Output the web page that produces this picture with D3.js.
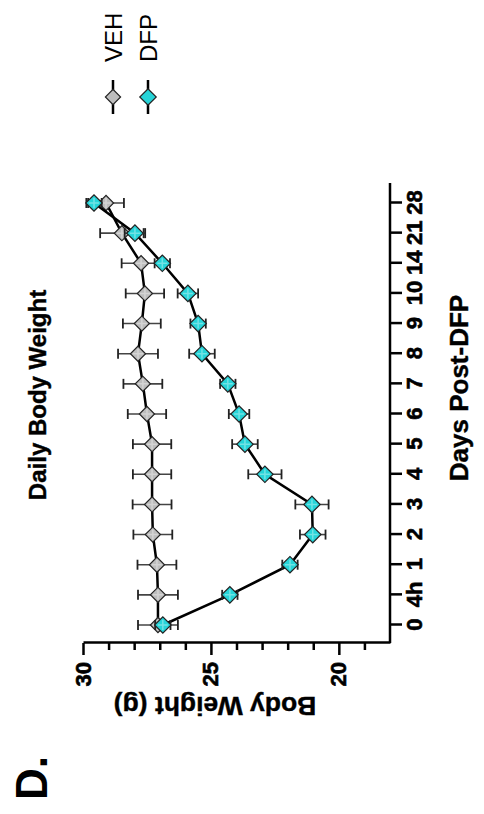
<!DOCTYPE html>
<html>
<head>
<meta charset="utf-8">
<script src="https://cdn.jsdelivr.net/npm/d3@7"></script>
<style>
  body { margin: 0; background: #fff; }
  svg { display: block; }
  text { font-family: Arial, "Liberation Sans", sans-serif; }
</style>
</head>
<body>
<div id="chart"></div>
<script>
// datos
const days = ["0", "4h", "1", "2", "3", "4", "5", "6", "7", "8", "9", "10", "14", "21", "28"];
const vehMean = [27.07, 27.07, 27.11, 27.27, 27.3, 27.3, 27.3, 27.5, 27.66, 27.85, 27.7, 27.58, 27.73, 28.48, 29.1];
const vehSem  = [0.78, 0.78, 0.76, 0.76, 0.76, 0.75, 0.75, 0.75, 0.76, 0.78, 0.74, 0.75, 0.76, 0.85, 0.7];
const dfpMean = [26.88, 24.26, 21.91, 21.02, 21.05, 22.89, 23.67, 23.9, 24.34, 25.35, 25.5, 25.9, 26.9, 27.97, 29.57];
const dfpSem  = [0.3, 0.3, 0.3, 0.5, 0.65, 0.65, 0.5, 0.4, 0.3, 0.5, 0.3, 0.4, 0.3, 0.4, 0.3];
const weightTicks = [20, 25, 30];
const minorTicks = [19, 21, 22, 23, 24, 26, 27, 28, 29];
const groups = ["VEH", "DFP"];
const colors = ["#bdbdbd", "#26d4d8"];

const W = 484, H = 814;
const font = 'Arial, "Liberation Sans", sans-serif';

const svg = d3.select("#chart").append("svg")
    .attr("width", W)
    .attr("height", H);

// el gráfico entero va girado 90° a la izquierda
const g = svg.append("g")
    .attr("transform", "translate(0," + H + ") rotate(-90)");

const x = d3.scalePoint().domain(days).range([189, 611]);
const y = d3.scaleLinear().domain([18, 30]).range([390, 83]);

// texto en negrita algo más grueso, como en el original
function heavy(sel, size, sw) {
    sel.attr("fill", "#000")
        .attr("stroke", "#000")
        .attr("stroke-width", sw || 0.6)
        .style("font", "bold " + size + "px " + font);
}

// eje de días
const xAxis = g.append("g")
    .attr("transform", "translate(0,390)")
    .call(d3.axisBottom(x).tickSize(12).tickPadding(4));
xAxis.select(".domain").remove();
xAxis.append("line")
    .attr("x1", 171).attr("x2", 631)
    .attr("stroke", "#000").attr("stroke-width", 2.5);
xAxis.selectAll(".tick line").attr("stroke", "#000").attr("stroke-width", 2.5);
xAxis.selectAll(".tick text").call(heavy, 22);

// eje de peso
const yAxis = g.append("g")
    .attr("transform", "translate(171,0)")
    .call(d3.axisLeft(y).tickValues(weightTicks).tickSize(12).tickSizeOuter(0).tickPadding(7));
yAxis.select(".domain").attr("stroke", "#000").attr("stroke-width", 2.5);
yAxis.selectAll(".tick line").attr("stroke", "#000").attr("stroke-width", 2.5);
yAxis.selectAll(".tick text").call(heavy, 22);

const yMinor = g.append("g")
    .attr("transform", "translate(171,0)")
    .call(d3.axisLeft(y).tickValues(minorTicks).tickSize(7).tickFormat(""));
yMinor.select(".domain").remove();
yMinor.selectAll(".tick line").attr("stroke", "#000").attr("stroke-width", 2.5);

// series
const series = [
    {name: groups[0], mean: vehMean, sem: vehSem, color: colors[0], size: 115},
    {name: groups[1], mean: dfpMean, sem: dfpSem, color: colors[1], size: 135}
];

const line = d3.line()
    .x((d, i) => x(days[i]))
    .y(d => y(d));

const diamond = d3.symbol().type(d3.symbolSquare);

series.forEach(s => {
    const sg = g.append("g");

    sg.append("path")
        .datum(s.mean)
        .attr("d", line)
        .attr("fill", "none")
        .attr("stroke", "#000")
        .attr("stroke-width", 2.5);

    const err = sg.selectAll(".err")
        .data(s.mean)
        .enter()
        .append("g")
        .attr("transform", (d, i) => "translate(" + x(days[i]) + ",0)");

    err.append("line")
        .attr("y1", (d, i) => y(d - s.sem[i]))
        .attr("y2", (d, i) => y(d + s.sem[i]))
        .attr("stroke", "#444").attr("stroke-width", 1.6);
    err.append("line")
        .attr("x1", -5).attr("x2", 5)
        .attr("y1", (d, i) => y(d - s.sem[i]))
        .attr("y2", (d, i) => y(d - s.sem[i]))
        .attr("stroke", "#222").attr("stroke-width", 1.8);
    err.append("line")
        .attr("x1", -5).attr("x2", 5)
        .attr("y1", (d, i) => y(d + s.sem[i]))
        .attr("y2", (d, i) => y(d + s.sem[i]))
        .attr("stroke", "#222").attr("stroke-width", 1.8);

    const pt = sg.selectAll(".pt")
        .data(s.mean)
        .enter()
        .append("g")
        .attr("transform", (d, i) => "translate(" + x(days[i]) + "," + y(d) + ")");

    pt.append("path")
        .attr("d", diamond.size(s.size))
        .attr("transform", "rotate(45)")
        .attr("fill", s.color)
        .attr("stroke", "#222")
        .attr("stroke-width", 1.2);

    // brillo en cruz dentro del rombo
    pt.append("path")
        .attr("d", "M-5,0H5M0,-5V5")
        .attr("stroke", "#fff")
        .attr("stroke-opacity", 0.35)
        .attr("stroke-width", 1.5);
});

// títulos
g.append("text")
    .attr("x", 419).attr("y", 46)
    .attr("text-anchor", "middle")
    .call(heavy, 24, 0.4)
    .text("Daily Body Weight");

g.append("text")
    .attr("x", 426).attr("y", 468)
    .attr("text-anchor", "middle")
    .call(heavy, 26, 0.4)
    .text("Days Post-DFP");

g.append("text")
    .attr("transform", "translate(117,215) rotate(-90)")
    .attr("text-anchor", "middle")
    .call(heavy, 26.5, 0.4)
    .text("Body Weight (g)");

g.append("text")
    .attr("x", 14).attr("y", 47)
    .style("font", "bold 44px " + font)
    .text("D.");

// leyenda
const legend = g.selectAll(".legend")
    .data(series)
    .enter()
    .append("g")
    .attr("transform", (d, i) => "translate(717," + (113 + i * 35) + ")");

legend.append("line")
    .attr("x1", -17).attr("x2", 17)
    .attr("stroke", "#000").attr("stroke-width", 2.5);
legend.append("path")
    .attr("d", d => diamond.size(d.size)())
    .attr("transform", "rotate(45)")
    .attr("fill", d => d.color)
    .attr("stroke", "#222")
    .attr("stroke-width", 1.2);
legend.append("text")
    .attr("x", 35).attr("y", 8.5)
    .style("font", "24px " + font)
    .text(d => d.name);
</script>
</body>
</html>
